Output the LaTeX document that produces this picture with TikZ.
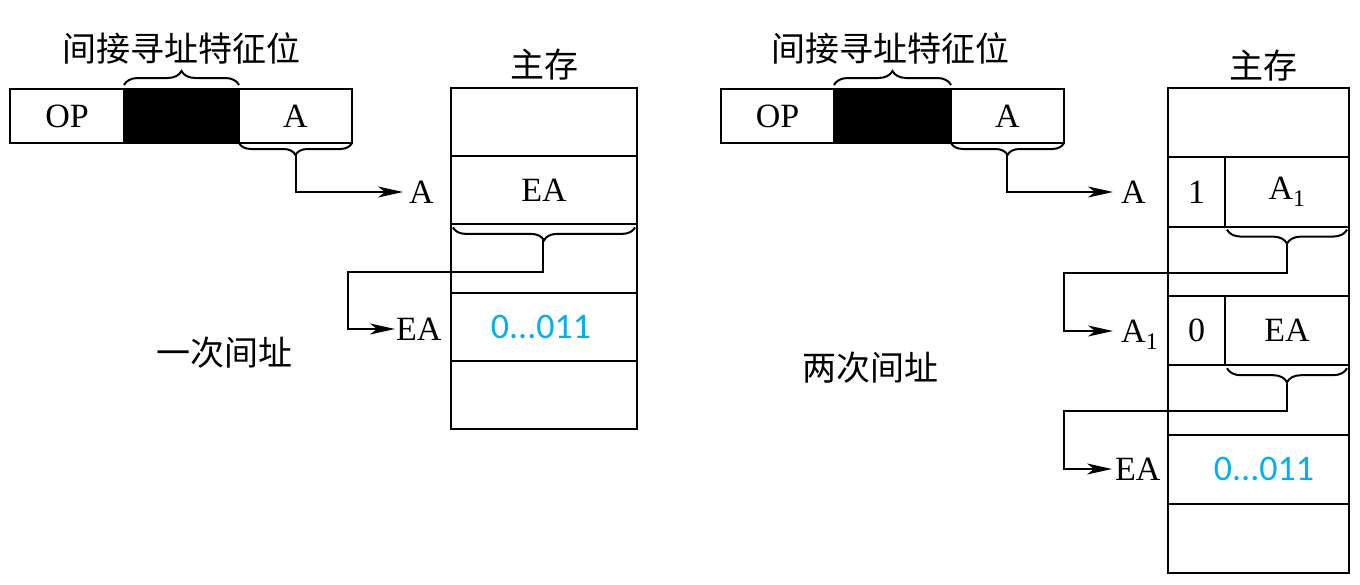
\documentclass[tikz,border=0pt]{standalone}
\usepackage{fontspec}
\setmainfont{Liberation Serif}
\newfontfamily\cjk{Noto Sans CJK SC}
\newfontfamily\digitfont{Carlito}
\usetikzlibrary{arrows.meta,decorations.pathreplacing}
\definecolor{addrblue}{RGB}{0,176,240}

\begin{document}
\begin{tikzpicture}[x=1pt,y=-1pt,
  box/.style={draw,line width=2pt,inner sep=0pt,outer sep=0pt,anchor=north west,
              font=\fontsize{34}{38}\selectfont},
  lbl/.style={anchor=west,inner ysep=0pt,text height=22.5pt,text depth=0pt,
              font=\fontsize{34}{38}\selectfont},
  cjklabel/.style={font=\cjk\fontsize{34}{40}\selectfont,inner sep=0pt},
  bits/.style={font=\digitfont\fontsize{36}{40}\selectfont,text=addrblue,inner sep=0pt},
  link/.style={line width=2pt,-{Stealth[length=25pt,width=11pt,inset=7pt]}},
  bracepath/.style={line width=2pt,decorate,decoration={brace,amplitude=#1}},
]
\useasboundingbox (0,0) rectangle (1360,584);

% ---------------- single indirection ----------------
\node[cjklabel] (flagL) at (181,48) {间接寻址特征位};
\node[box,minimum width=114pt,minimum height=54pt] (opL) at (10,89) {OP};
\node[box,fill=black,minimum width=115pt,minimum height=54pt] (indL) at (124,89) {};
\node[box,minimum width=113pt,minimum height=54pt] (adrL) at (239,89) {A};
\draw[bracepath=14] ([yshift=4pt]indL.north west) -- ([yshift=4pt]indL.north east);
\draw[bracepath=12] (adrL.south east) -- (adrL.south west);
\coordinate (tipL) at (296,155);

\node[cjklabel] (memL) at (544,65) {主存};
\node[box,minimum width=186pt,minimum height=68.2pt] (mL1) at (451,88) {};
\node[box,minimum width=186pt,minimum height=68.2pt] (mL2) at (451,156.2) {EA};
\node[box,minimum width=186pt,minimum height=68.2pt] (mL3) at (451,224.4) {};
\node[box,minimum width=186pt,minimum height=68.2pt] (mL4) at (451,292.6) {};
\node[box,minimum width=186pt,minimum height=68.2pt] (mL5) at (451,360.8) {};
\node[bits] (bitsL) at (541,327) {0...011};

\node[lbl,inner xsep=6pt] (lblAL) at (403,192) {A};
\draw[link] (tipL) |- (lblAL.west);

\draw[bracepath=13] ([xshift=-2pt,yshift=-3pt]mL2.south east) -- ([xshift=2pt,yshift=-3pt]mL2.south west);
\coordinate (tipML) at (543,240);
\coordinate (bendL) at (348,272);
\node[lbl,inner xsep=1pt] (lblEAL) at (395,329) {EA};
\draw[link] (tipML) |- (bendL) |- (lblEAL.west);

\node[cjklabel] (oneL) at (224,353) {一次间址};

% ---------------- double indirection ----------------
\node[cjklabel] (flagR) at (890,48) {间接寻址特征位};
\node[box,minimum width=113pt,minimum height=54pt] (opR) at (721,89) {OP};
\node[box,fill=black,minimum width=117pt,minimum height=54pt] (indR) at (834,89) {};
\node[box,minimum width=113pt,minimum height=54pt] (adrR) at (951,89) {A};
\draw[bracepath=14] ([yshift=4pt]indR.north west) -- ([yshift=4pt]indR.north east);
\draw[bracepath=12] (adrR.south east) -- (adrR.south west);
\coordinate (tipR) at (1007,155);

\node[cjklabel] (memR) at (1263,66) {主存};
\node[box,minimum width=181pt,minimum height=69.3pt] (mR1) at (1168,88) {};
\node[box,minimum width=57pt,minimum height=69.3pt] (mR2a) at (1168,157.3) {1};
\node[box,minimum width=124pt,minimum height=69.3pt] (mR2b) at (1225,157.3) {A\textsubscript{1}};
\node[box,minimum width=181pt,minimum height=69.3pt] (mR3) at (1168,226.6) {};
\node[box,minimum width=57pt,minimum height=69.3pt] (mR4a) at (1168,295.9) {0};
\node[box,minimum width=124pt,minimum height=69.3pt] (mR4b) at (1225,295.9) {EA};
\node[box,minimum width=181pt,minimum height=69.3pt] (mR5) at (1168,365.2) {};
\node[box,minimum width=181pt,minimum height=69.3pt] (mR6) at (1168,434.5) {};
\node[box,minimum width=181pt,minimum height=69.3pt] (mR7) at (1168,503.8) {};
\node[bits] (bitsR) at (1264,469) {0...011};

\node[lbl,inner xsep=8pt] (lblAR) at (1113,192) {A};
\draw[link] (tipR) |- (lblAR.west);

\draw[bracepath=14] ([xshift=-2pt,yshift=-3pt]mR2b.south east) -- ([xshift=2pt,yshift=-3pt]mR2b.south west);
\coordinate (tipR1) at (1287,244);
\coordinate (bendR1) at (1064,273);
\node[lbl,inner xsep=8pt] (lblA1R) at (1113,331) {A\textsubscript{1}};
\draw[link] (tipR1) |- (bendR1) |- (lblA1R.west);

\draw[bracepath=14] ([xshift=-2pt,yshift=-3pt]mR4b.south east) -- ([xshift=2pt,yshift=-3pt]mR4b.south west);
\coordinate (tipR2) at (1287,383);
\coordinate (bendR2) at (1064,411);
\node[lbl,inner xsep=3pt] (lblEAR) at (1112,469) {EA};
\draw[link] (tipR2) |- (bendR2) |- (lblEAR.west);

\node[cjklabel] (twoR) at (870,368) {两次间址};
\end{tikzpicture}
\end{document}
